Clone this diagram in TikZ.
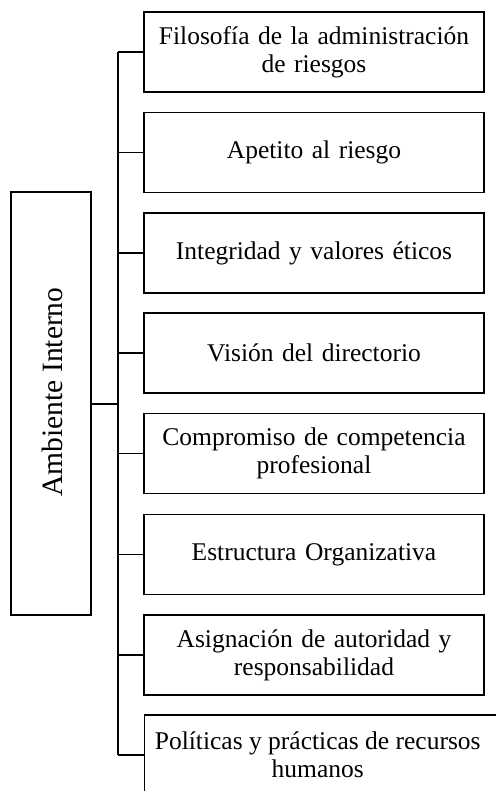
\documentclass[tikz,border=0pt]{standalone}
\usepackage{fontspec}
\setmainfont{Liberation Serif}
\begin{document}
\begin{tikzpicture}[x=1pt,y=-1pt,
  boxfont/.style={font=\fontsize{25.5}{28}\selectfont},
  itembox/.style={draw,line width=1.4pt,minimum width=340pt,minimum height=80pt,
    inner sep=2pt,align=center,boxfont,text width=336pt},
  mainbox/.style={draw,line width=1.4pt,minimum width=80pt,minimum height=423pt,inner sep=0pt},
  branch/.style={line width=1.4pt},
  spine/.style={line width=2pt}]
\useasboundingbox (0,0) rectangle (495,791);
\node[mainbox] (a) at (51,403.5) {};
\node[rotate=90,font=\fontsize{29.5}{32}\selectfont] (at) at (52,392) {Ambiente Interno};
\node[itembox] (b1) at (314,52) {Filosofía de la administración\\de riesgos};
\node[itembox] (b2) at (314,152.5) {Apetito al riesgo};
\node[itembox] (b3) at (314,253) {Integridad y valores éticos};
\node[itembox] (b4) at (314,353) {Visión del directorio};
\node[itembox] (b5) at (314,453.5) {Compromiso de competencia\\profesional};
\node[itembox] (b6) at (314,554.5) {Estructura Organizativa};
\node[itembox] (b7) at (314,655) {Asignación de autoridad y\\responsabilidad};
\node[itembox,minimum width=370pt,text width=366pt,anchor=west,
  label={[boxfont,align=center,xshift=-12pt]center:Políticas y prácticas de recursos\\humanos}] (b8) at (144,755) {};
\coordinate (sp) at (118,0);
\draw[spine] (b1.west -| sp) -- (b8.west -| sp);
\draw[spine] (a.east) -- (a.east -| sp);
\foreach \i in {1,...,8} {
  \draw[branch] (b\i.west) -- (b\i.west -| sp);
}
\end{tikzpicture}
\end{document}
